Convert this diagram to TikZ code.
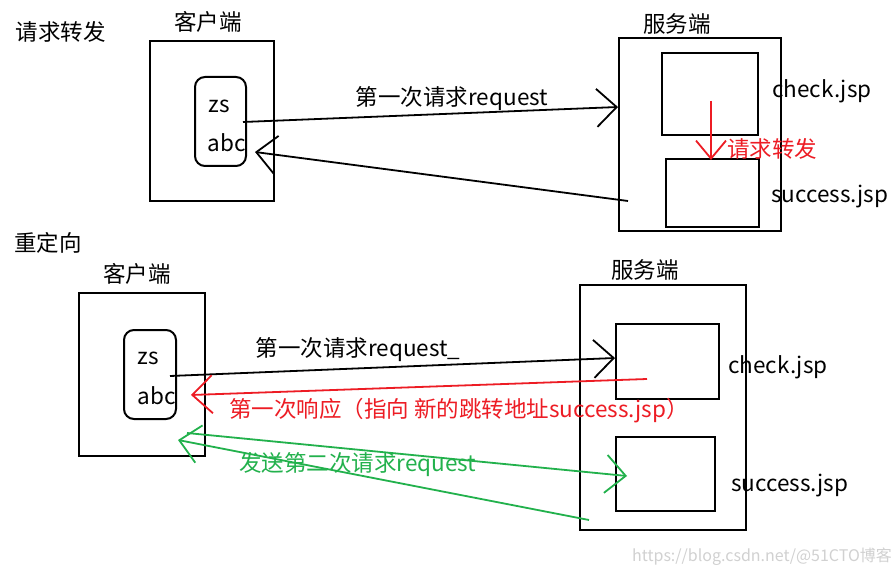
\documentclass[tikz,border=0pt]{standalone}
\usepackage{fontspec}
\setmainfont{Noto Sans CJK SC}
\usetikzlibrary{arrows.meta}
\definecolor{pred}{HTML}{ED1C24}
\definecolor{pgreen}{HTML}{22B14C}
\begin{document}
\begin{tikzpicture}[x=1pt,y=-1pt,
  txt/.style={inner sep=0pt,font=\fontsize{22.5}{24}\selectfont},
  ltxt/.style={txt,anchor=west},
  boxn/.style={draw,line width=2pt,inner sep=0pt,minimum width=#1},
  conn/.style={line width=1.8pt,-{Straight Barb[length=20pt,width=38pt,line width=1.8pt]}},
  wm/.style={inner sep=0pt,font=\fontsize{16}{17}\selectfont,text=black!18}]
\useasboundingbox[fill=white] (0,0) rectangle (891,577);
% ---------- top: forward ----------
\node[txt] (t1) at (61,32) {请求转发};
\node[txt] (c1l) at (208,22) {客户端};
\node[boxn=124pt,minimum height=160pt] (c1) at (212,121) {};
\node[boxn=51pt,minimum height=89pt,rounded corners=10pt] (c1in) at (220.5,121.5) {};
\node[txt] (zs1) at (219,106) {zs};
\node[txt] (abc1) at (227,143) {abc};
\node[txt] (s1l) at (677,24) {服务端};
\node[boxn=162pt,minimum height=193pt] (s1) at (700,134.5) {};
\node[boxn=96pt,minimum height=82pt] (chk1) at (710,94) {};
\node[boxn=93pt,minimum height=68pt] (suc1) at (712.5,193) {};
\node[ltxt] (chk1t) at (772,91) {check.jsp};
\node[ltxt] (suc1t) at (771,197) {success.jsp};
\coordinate (a1s) at (243,122);
\coordinate (a1e) at (618,107);
\draw[conn] (a1s) -- (a1e);
\node[txt] (l1) at (452,99) {第一次请求request};
\coordinate (a2s) at (628,201);
\coordinate (a2e) at (255,152);
\draw[conn] (a2s) -- (a2e);
\coordinate (f1s) at (711,101);
\coordinate (f1e) at (711,160);
\draw[conn,pred,-{Straight Barb[length=18pt,width=30pt,line width=1.8pt]}] (f1s) -- (f1e);
\node[ltxt,text=pred] (fl) at (727,149) {请求转发};
% ---------- bottom: redirect ----------
\node[txt] (t2) at (48,243) {重定向};
\node[txt] (c2l) at (137,274) {客户端};
\node[boxn=126pt,minimum height=163pt] (c2) at (142,374.5) {};
\node[boxn=52pt,minimum height=89pt,rounded corners=10pt] (c2in) at (150,374.5) {};
\node[txt] (zs2) at (148,358) {zs};
\node[txt] (abc2) at (157,396) {abc};
\node[txt] (s2l) at (645,270) {服务端};
\node[boxn=166pt,minimum height=245pt] (s2) at (663,407.5) {};
\node[boxn=103pt,minimum height=75pt] (chk2) at (667.5,361.5) {};
\node[boxn=99pt,minimum height=74pt] (suc2) at (665.5,474) {};
\node[ltxt] (chk2t) at (728,367) {check.jsp};
\node[ltxt] (suc2t) at (731,486) {success.jsp};
\coordinate (b1s) at (170,376);
\coordinate (b1e) at (615,358);
\draw[conn] (b1s) -- (b1e);
\node[txt] (bl1) at (358,350) {第一次请求request\_};
\coordinate (r1s) at (647,379);
\coordinate (r1e) at (191,395);
\draw[conn,pred] (r1s) -- (r1e);
\node[ltxt,text=pred] (rl) at (229,411) {第一次响应（指向 新的跳转地址success.jsp）};
\coordinate (g1s) at (187,433);
\coordinate (g1e) at (627,476);
\draw[conn,pgreen] (g1s) -- (g1e);
\coordinate (g2s) at (589,520);
\coordinate (g2e) at (178,440);
\draw[conn,pgreen] (g2s) -- (g2e);
\node[ltxt,text=pgreen] (gl) at (239,465) {发送第二次请求request};
\node[wm] (wm) at (762,557) {https://blog.csdn.net/@51CTO博客};
\end{tikzpicture}
\end{document}
